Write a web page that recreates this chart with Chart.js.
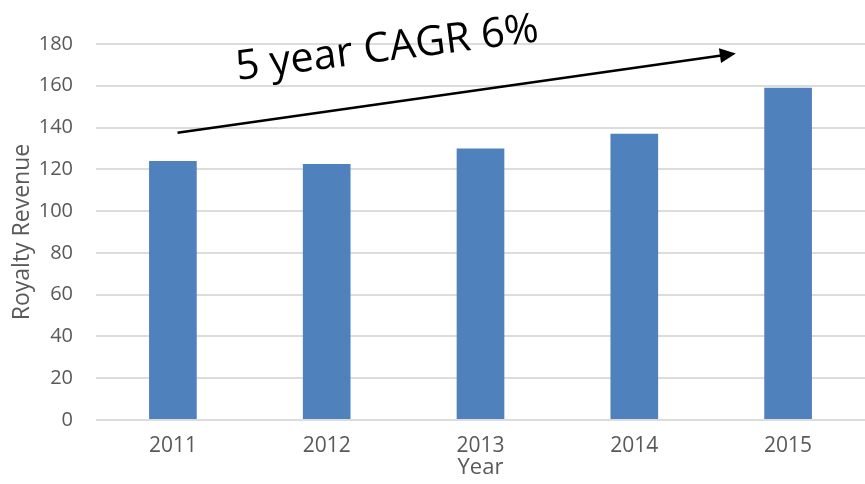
<!DOCTYPE html>
<html><head><meta charset="utf-8">
<script src="https://cdn.jsdelivr.net/npm/chart.js@4"></script>
<style>html,body{margin:0;padding:0;background:#fff}#wrap{width:865px;height:484px}</style>
</head><body><div id="wrap"><canvas id="c" width="865" height="484"></canvas></div>
<script>
const years = ['2011', '2012', '2013', '2014', '2015'];
const royaltyRevenue = [124, 122.5, 130, 137, 159];
const yMin = 0, yMax = 180, yStep = 20;
const yTitle = 'Royalty Revenue';
const xTitle = 'Year';
const annotationText = '5 year CAGR 6%';
// annotation anchors in data units: [category index, value]
const arrowFrom = [0.03, 137.5];
const arrowTo = [3.66, 175.5];
const textAnchor = [0.42, 162.8];

const FONT = '"Open Sans", "DejaVu Sans", sans-serif';

function xAt(xs, idx) {
  const a = xs.getPixelForValue(0), b = xs.getPixelForValue(1);
  return a + idx * (b - a);
}

const annotationPlugin = {
  id: 'cagr',
  afterDraw(chart) {
    const ctx = chart.ctx, xs = chart.scales.x, ys = chart.scales.y;
    const x1 = xAt(xs, arrowFrom[0]), y1 = ys.getPixelForValue(arrowFrom[1]);
    const x2 = xAt(xs, arrowTo[0]), y2 = ys.getPixelForValue(arrowTo[1]);
    const ang = Math.atan2(y2 - y1, x2 - x1);
    const headLen = 16, headW = 7.5;
    ctx.save();
    ctx.strokeStyle = '#000';
    ctx.fillStyle = '#000';
    ctx.lineWidth = 2.5;
    ctx.beginPath();
    ctx.moveTo(x1, y1);
    ctx.lineTo(x2 - Math.cos(ang) * headLen * 0.8, y2 - Math.sin(ang) * headLen * 0.8);
    ctx.stroke();
    ctx.translate(x2, y2);
    ctx.rotate(ang);
    ctx.beginPath();
    ctx.moveTo(0, 0);
    ctx.lineTo(-headLen, -headW);
    ctx.lineTo(-headLen, headW);
    ctx.closePath();
    ctx.fill();
    ctx.restore();

    const tx = xAt(xs, textAnchor[0]), ty = ys.getPixelForValue(textAnchor[1]);
    ctx.save();
    ctx.font = '40px ' + FONT;
    const w = ctx.measureText(annotationText).width;
    const fs = 40 * 305 / w;
    ctx.font = fs.toFixed(1) + 'px ' + FONT;
    ctx.translate(tx, ty);
    ctx.rotate(-7.3 * Math.PI / 180);
    ctx.fillStyle = '#000';
    ctx.textAlign = 'left';
    ctx.textBaseline = 'alphabetic';
    ctx.fillText(annotationText, 0, 0);
    ctx.restore();
  }
};

new Chart(document.getElementById('c'), {
  type: 'bar',
  data: {
    labels: years,
    datasets: [{
      data: royaltyRevenue,
      backgroundColor: '#4f81bd',
      borderWidth: 0,
      barPercentage: 0.31,
      categoryPercentage: 1
    }]
  },
  options: {
    responsive: false,
    animation: false,
    devicePixelRatio: 1,
    layout: { padding: { top: 44, right: 0, left: 0, bottom: 0 } },
    plugins: { legend: { display: false }, tooltip: { enabled: false } },
    scales: {
      x: {
        grid: { display: false, drawTicks: false },
        border: { display: false },
        ticks: { color: '#595959', font: { family: FONT, size: 21 }, padding: 13 },
        title: { display: true, text: xTitle, color: '#595959', font: { family: FONT, size: 22 }, padding: { top: 0, bottom: 3 } },
        afterFit(s) { s.height = 64; }
      },
      y: {
        min: yMin, max: yMax,
        grid: { color: '#dcdcdc', lineWidth: 2, drawTicks: false },
        border: { display: false },
        ticks: { stepSize: yStep, color: '#595959', font: { family: FONT, size: 20 }, padding: 23 },
        title: { display: true, text: yTitle, color: '#595959', font: { family: FONT, size: 23 }, padding: { top: 9, bottom: 0 } },
        afterFit(s) { s.width = 96; }
      }
    }
  },
  plugins: [annotationPlugin]
});
</script>
</body></html>
